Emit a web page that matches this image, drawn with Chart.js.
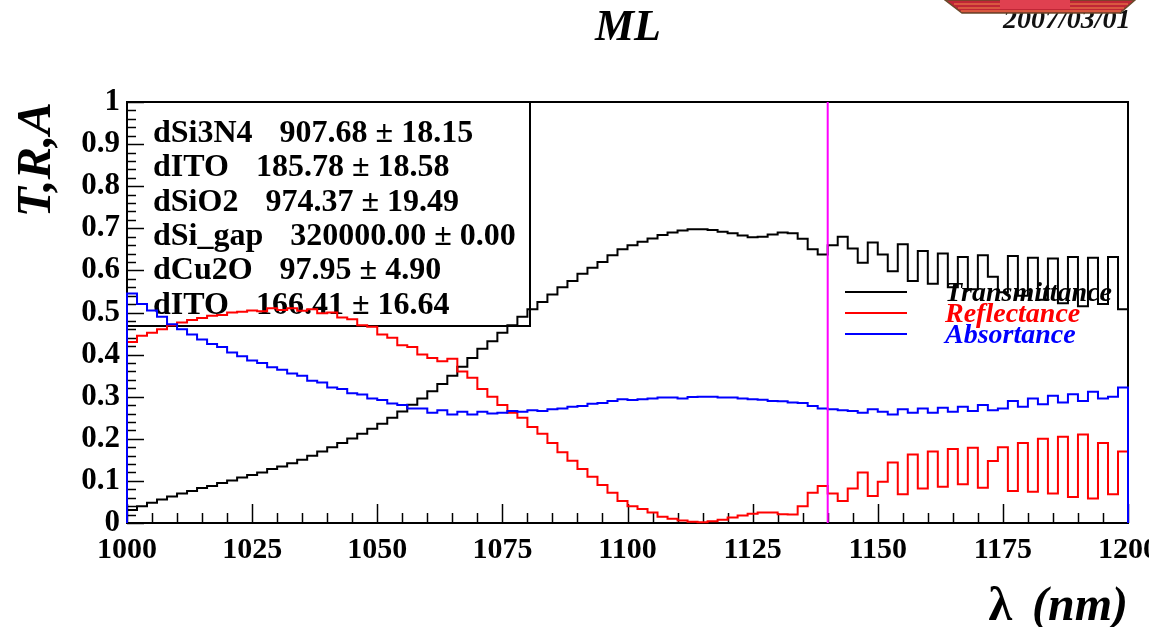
<!DOCTYPE html>
<html>
<head>
<meta charset="utf-8">
<script src="https://cdn.jsdelivr.net/npm/chart.js@4.4.1/dist/chart.umd.min.js"></script>
<style>
  html, body { margin: 0; padding: 0; background: #fff; }
</style>
</head>
<body>
<canvas id="myChart" width="1149" height="627"></canvas>
<script>
// histogram: 100 bins of 2 nm from 1000 to 1200 nm
const binStart = 1000;
const binWidth = 2;

const transmittance = [
  0.031, 0.040, 0.048, 0.056, 0.063, 0.070, 0.076, 0.083, 0.088, 0.095,
  0.101, 0.108, 0.114, 0.120, 0.128, 0.134, 0.142, 0.150, 0.160, 0.170,
  0.180, 0.190, 0.201, 0.212, 0.224, 0.236, 0.250, 0.265, 0.281, 0.296,
  0.313, 0.330, 0.350, 0.371, 0.392, 0.414, 0.432, 0.452, 0.470, 0.490,
  0.508, 0.525, 0.543, 0.560, 0.575, 0.592, 0.606, 0.620, 0.636, 0.650,
  0.660, 0.668, 0.676, 0.684, 0.690, 0.695, 0.698, 0.698, 0.696, 0.692,
  0.688, 0.683, 0.679, 0.680, 0.685, 0.690, 0.688, 0.675, 0.650, 0.638,
  0.660, 0.680, 0.652, 0.618, 0.666, 0.638, 0.598, 0.662, 0.575, 0.646,
  0.568, 0.640, 0.560, 0.632, 0.555, 0.636, 0.585, 0.548, 0.634, 0.540,
  0.630, 0.530, 0.628, 0.522, 0.632, 0.515, 0.630, 0.520, 0.632, 0.508
];
const reflectance = [
  0.430, 0.445, 0.452, 0.460, 0.470, 0.476, 0.482, 0.487, 0.492, 0.494,
  0.500, 0.502, 0.505, 0.503, 0.510, 0.506, 0.510, 0.504, 0.508, 0.498,
  0.500, 0.488, 0.484, 0.470, 0.466, 0.448, 0.440, 0.422, 0.418, 0.400,
  0.392, 0.384, 0.390, 0.360, 0.345, 0.318, 0.300, 0.280, 0.262, 0.250,
  0.228, 0.212, 0.190, 0.168, 0.148, 0.128, 0.110, 0.090, 0.072, 0.052,
  0.040, 0.033, 0.025, 0.015, 0.010, 0.006, 0.003, 0.002, 0.004, 0.008,
  0.013, 0.018, 0.022, 0.025, 0.025, 0.021, 0.020, 0.040, 0.072, 0.088,
  0.070, 0.052, 0.082, 0.120, 0.064, 0.098, 0.144, 0.068, 0.163, 0.082,
  0.170, 0.086, 0.176, 0.092, 0.179, 0.084, 0.147, 0.180, 0.076, 0.190,
  0.074, 0.200, 0.070, 0.205, 0.062, 0.210, 0.058, 0.190, 0.068, 0.170
];
const absortance = [
  0.545, 0.520, 0.505, 0.490, 0.472, 0.460, 0.448, 0.436, 0.425, 0.418,
  0.405, 0.396, 0.386, 0.380, 0.370, 0.364, 0.355, 0.350, 0.338, 0.334,
  0.322, 0.318, 0.308, 0.305, 0.296, 0.292, 0.284, 0.280, 0.272, 0.272,
  0.262, 0.268, 0.258, 0.264, 0.258, 0.264, 0.260, 0.262, 0.266, 0.264,
  0.268, 0.266, 0.270, 0.272, 0.276, 0.278, 0.283, 0.285, 0.290, 0.294,
  0.292, 0.294, 0.296, 0.298, 0.298, 0.296, 0.299, 0.300, 0.300, 0.298,
  0.298, 0.296, 0.294, 0.293, 0.290, 0.289, 0.286, 0.285, 0.278, 0.272,
  0.270, 0.268, 0.266, 0.262, 0.270, 0.264, 0.258, 0.270, 0.262, 0.272,
  0.262, 0.274, 0.264, 0.276, 0.266, 0.280, 0.268, 0.272, 0.290, 0.276,
  0.296, 0.282, 0.302, 0.286, 0.306, 0.290, 0.312, 0.296, 0.300, 0.322
];

const seriesNames = ['Transmittance', 'Reflectance', 'Absortance'];
const seriesColors = ['#000000', '#ff0000', '#0000ff'];

const xTicks = [1000, 1025, 1050, 1075, 1100, 1125, 1150, 1175, 1200];
const yTicks = [0, 0.1, 0.2, 0.3, 0.4, 0.5, 0.6, 0.7, 0.8, 0.9, 1];

const fitNames  = ['dSi3N4', 'dITO', 'dSiO2', 'dSi_gap', 'dCu2O', 'dITO'];
const fitValues = ['907.68', '185.78', '974.37', '320000.00', '97.95', '166.41'];
const fitErrors = ['18.15', '18.58', '19.49', '0.00', '4.90', '16.64'];

const cutWavelength = 1140;
const titleText = 'ML';
const dateText = '2007/03/01';

// turn bin contents into a step outline, closed down to 0 at both ends like ROOT
function histPoints(vals) {
  var pts = [{x: binStart, y: 0}];
  vals.forEach(function (v, i) { pts.push({x: binStart + i * binWidth, y: v}); });
  var end = binStart + vals.length * binWidth;
  pts.push({x: end, y: vals[vals.length - 1]});
  pts.push({x: end, y: 0});
  return pts;
}

const serif = '"Liberation Serif", "Times New Roman", serif';

var rootStyle = {
  id: 'rootStyle',
  beforeDatasetsDraw: function (chart) {
    var ctx = chart.ctx, a = chart.chartArea;
    var xs = chart.scales.x, ys = chart.scales.y;
    ctx.save();
    // frame
    ctx.strokeStyle = '#000';
    ctx.lineWidth = 2;
    ctx.strokeRect(a.left, a.top, a.right - a.left, a.bottom - a.top);
    // x ticks (inside)
    ctx.lineWidth = 1.5;
    for (var v = xTicks[0]; v <= xTicks[xTicks.length - 1]; v += 5) {
      var px = Math.round(xs.getPixelForValue(v)) + 0.5;
      var len = (v % 25 === 0) ? 19 : 10;
      ctx.beginPath(); ctx.moveTo(px, a.bottom); ctx.lineTo(px, a.bottom - len); ctx.stroke();
    }
    // y ticks (inside)
    for (var k = 0; k <= 50; k++) {
      var py = Math.round(ys.getPixelForValue(k * 0.02)) + 0.5;
      var l2 = (k % 5 === 0) ? 17 : 9;
      ctx.beginPath(); ctx.moveTo(a.left, py); ctx.lineTo(a.left + l2, py); ctx.stroke();
    }
    // fit results box
    ctx.lineWidth = 2;
    ctx.strokeRect(a.left, a.top, 530 - a.left, 326 - a.top);
    ctx.fillStyle = '#000';
    ctx.font = 'bold 32px ' + serif;
    ctx.textAlign = 'left';
    ctx.textBaseline = 'alphabetic';
    for (var i = 0; i < fitNames.length; i++) {
      var by = 142 + i * 34.3;
      ctx.fillText(fitNames[i], 153, by);
      var w = ctx.measureText(fitNames[i]).width;
      ctx.fillText(fitValues[i] + ' \u00b1 ' + fitErrors[i], 153 + w + 27, by);
    }
    ctx.restore();
  },
  afterDatasetsDraw: function (chart) {
    var ctx = chart.ctx, a = chart.chartArea;
    var xs = chart.scales.x;
    ctx.save();
    // cut line
    var cx = xs.getPixelForValue(cutWavelength);
    ctx.strokeStyle = '#ff00ff';
    ctx.lineWidth = 2;
    ctx.beginPath(); ctx.moveTo(cx, a.top); ctx.lineTo(cx, a.bottom); ctx.stroke();

    // legend
    ctx.font = 'italic bold 28px ' + serif;
    ctx.textAlign = 'left';
    ctx.textBaseline = 'alphabetic';
    for (var i = 0; i < seriesNames.length; i++) {
      var ly = 292 + i * 21;
      ctx.strokeStyle = seriesColors[i];
      ctx.lineWidth = 2;
      ctx.beginPath(); ctx.moveTo(845, ly); ctx.lineTo(907, ly); ctx.stroke();
      ctx.fillStyle = seriesColors[i];
      ctx.fillText(seriesNames[i], 945, ly + 9);
    }

    // title
    ctx.fillStyle = '#000';
    ctx.textAlign = 'center';
    ctx.font = 'italic bold 44px ' + serif;
    ctx.fillText(titleText, 628, 40);

    // axis titles
    ctx.textAlign = 'right';
    ctx.font = 'italic bold 48px ' + serif;
    ctx.fillText('(nm)', a.right, 620);
    var wn = ctx.measureText('(nm)').width;
    ctx.font = 'bold 48px ' + serif;
    ctx.fillText('\u03bb', a.right - wn - 20, 620);
    ctx.save();
    ctx.translate(50, a.top);
    ctx.rotate(-Math.PI / 2);
    ctx.font = 'italic bold 49px ' + serif;
    ctx.fillText('T,R,A', 0, 0);
    ctx.restore();

    // date and logo in the corner
    ctx.textAlign = 'left';
    ctx.font = 'italic bold 28px ' + serif;
    ctx.fillStyle = '#111';
    ctx.fillText(dateText, 1003, 28);
    ctx.beginPath();
    ctx.moveTo(945, 0); ctx.lineTo(1135, 0); ctx.lineTo(1120, 13); ctx.lineTo(962, 13); ctx.closePath();
    ctx.fillStyle = '#c02636'; ctx.fill();
    ctx.strokeStyle = '#6a4a2a'; ctx.lineWidth = 1.5; ctx.stroke();
    ctx.strokeStyle = '#f08a4a'; ctx.lineWidth = 1;
    [4, 8, 11].forEach(function (yy) {
      ctx.beginPath(); ctx.moveTo(950 + yy, yy); ctx.lineTo(1132 - yy, yy); ctx.stroke();
    });
    ctx.fillStyle = '#e04050';
    ctx.fillRect(1000, 0, 70, 9);
    ctx.restore();
  }
};

const ctx = document.getElementById('myChart').getContext('2d');
const myChart = new Chart(ctx, {
  type: 'line',
  data: {
    datasets: [
      { label: seriesNames[0], data: histPoints(transmittance), borderColor: seriesColors[0], order: 3 },
      { label: seriesNames[1], data: histPoints(reflectance), borderColor: seriesColors[1], order: 2 },
      { label: seriesNames[2], data: histPoints(absortance), borderColor: seriesColors[2], order: 1 }
    ]
  },
  options: {
    responsive: false,
    animation: false,
    devicePixelRatio: 1,
    layout: { padding: { top: 102, right: 21, left: 0, bottom: 0 } },
    elements: {
      line: { stepped: 'before', borderWidth: 2, tension: 0, fill: false },
      point: { radius: 0, hoverRadius: 0 }
    },
    datasets: { line: { clip: 4 } },
    plugins: { legend: { display: false }, tooltip: { enabled: false } },
    scales: {
      x: {
        type: 'linear', min: 1000, max: 1200,
        grid: { display: false, drawTicks: false },
        border: { display: false },
        ticks: {
          stepSize: 25, autoSkip: false, maxRotation: 0, padding: 9,
          color: '#000', font: { family: serif, size: 30, weight: 'bold' },
          callback: function (v) { return String(v); }
        },
        afterFit: function (s) { s.height = 104; s.paddingLeft = 0; s.paddingRight = 0; }
      },
      y: {
        type: 'linear', min: 0, max: 1,
        grid: { display: false, drawTicks: false },
        border: { display: false },
        ticks: {
          stepSize: 0.1, autoSkip: false, padding: 7,
          color: '#000', font: { family: serif, size: 31, weight: 'bold' },
          callback: function (v) { return String(Math.round(v * 10) / 10); }
        },
        afterFit: function (s) { s.width = 127; s.paddingTop = 0; s.paddingBottom = 0; }
      }
    }
  },
  plugins: [rootStyle]
});
</script>
</body>
</html>
